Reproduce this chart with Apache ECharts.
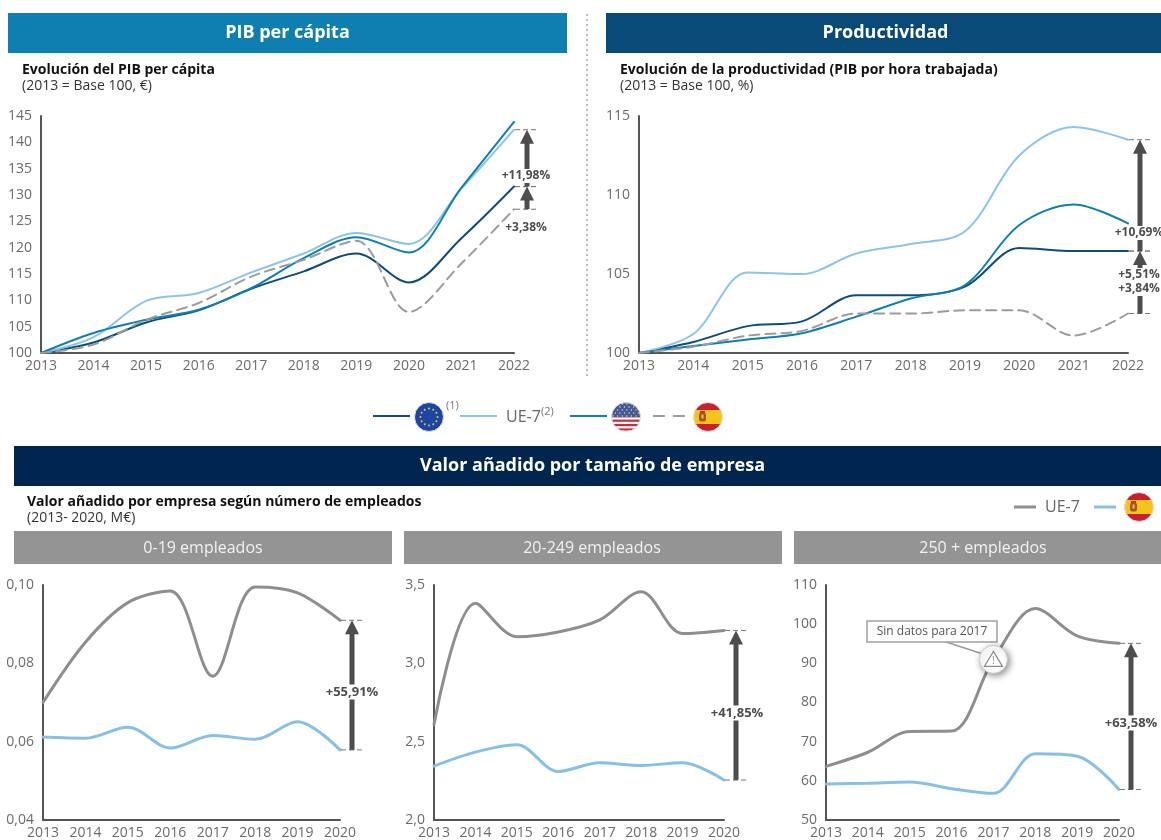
<!DOCTYPE html>
<html>
<head>
<meta charset="utf-8">
<script src="https://cdn.jsdelivr.net/npm/echarts@6/dist/echarts.min.js"></script>
<style>
html, body { margin: 0; padding: 0; background: #fff; overflow: hidden; }
#main { width: 1161px; height: 840px; }
</style>
</head>
<body>
<div id="main"></div>
<script>
const yearsLong = ['2013','2014','2015','2016','2017','2018','2019','2020','2021','2022']
const yearsShort = ['2013','2014','2015','2016','2017','2018','2019','2020']

// PIB per capita
const pibEU = [100, 102, 105.8, 108.1, 112.2, 115.5, 118.9, 113.4, 121.8, 131.6]
const pibUE7 = [100, 103, 109.9, 111.4, 115.3, 118.9, 122.8, 120.7, 131.2, 142.4]
const pibUSA = [100, 103.8, 106.3, 108.2, 112.3, 118, 122, 119.1, 131.4, 143.9]
const pibES = [100, 101.6, 106.3, 109.5, 114.5, 117.7, 121.3, 107.8, 117, 127.3]

// Productividad
const prodEU = [100, 100.7, 101.7, 102, 103.65, 103.65, 104.2, 106.65, 106.45, 106.45]
const prodUE7 = [100, 101.2, 105.1, 105, 106.3, 106.9, 107.7, 112.5, 114.3, 113.5]
const prodUSA = [100, 100.45, 100.85, 101.25, 102.3, 103.45, 104.3, 108.1, 109.4, 108.2]
const prodES = [100, 100.4, 101.1, 101.4, 102.5, 102.5, 102.7, 102.7, 101.1, 102.5]

// Valor anadido por tamano
const smallUE7 = [0.07, 0.0854, 0.0955, 0.0985, 0.0767, 0.0995, 0.098, 0.091]
const smallES = [0.0612, 0.0609, 0.0637, 0.0584, 0.0616, 0.0606, 0.0651, 0.0579]
const midUE7 = [2.61, 3.383, 3.17, 3.2, 3.277, 3.457, 3.19, 3.21]
const midES = [2.344, 2.433, 2.48, 2.31, 2.365, 2.348, 2.365, 2.255]
const bigUE7 = [63.7, 67.3, 72.6, 72.7, 91, 104, 97, 95.1]
const bigES = [59.2, 59.4, 59.7, 58, 56.8, 66.9, 66.3, 57.8]

const FONT = '"Open Sans", sans-serif'
const C_EU = '#0f4c7b'
const C_UE7 = '#8cc4e8'
const C_USA = '#0e80b0'
const C_ES = '#9c9c9c'
const C_GREY = '#8e8e8e'
const C_BLUE = '#86c0e8'
const C_ARROW = '#4d4d4d'

const comma = d => v => v.toFixed(d).replace('.', ',')

const xAxis = (i, data) => ({
  type: 'category',
  gridIndex: i,
  data,
  boundaryGap: false,
  axisLine: { lineStyle: { color: '#555', width: 2 } },
  axisTick: { show: false },
  axisLabel: { color: '#6b6b6b', fontSize: 14, fontFamily: FONT, margin: 6, interval: 0 }
})

const yAxis = (i, min, max, interval, dec) => ({
  type: 'value',
  gridIndex: i,
  min, max, interval,
  axisLine: { show: true, lineStyle: { color: '#555', width: 2 } },
  axisTick: { show: false },
  splitLine: { show: false },
  axisLabel: { color: '#6b6b6b', fontSize: 14, fontFamily: FONT, margin: 9, formatter: comma(dec) }
})

const line = (i, name, data, color, width, dashed) => ({
  type: 'line',
  name,
  xAxisIndex: i,
  yAxisIndex: i,
  data,
  smooth: 0.33,
  showSymbol: false,
  symbol: 'none',
  lineStyle: { color, width, type: dashed ? [10, 6] : 'solid', cap: 'round' }
})

const chart = echarts.init(document.getElementById('main'), null, { renderer: 'canvas' })

chart.setOption({
  animation: false,
  textStyle: { fontFamily: FONT },
  grid: [
    { left: 41, top: 116, width: 473, height: 237 },
    { left: 639, top: 116, width: 489, height: 237 },
    { left: 43, top: 585, width: 297, height: 237 },
    { left: 434, top: 585, width: 290, height: 237 },
    { left: 826, top: 585, width: 293, height: 237 }
  ],
  xAxis: [xAxis(0, yearsLong), xAxis(1, yearsLong), xAxis(2, yearsShort), xAxis(3, yearsShort), xAxis(4, yearsShort)],
  yAxis: [
    yAxis(0, 100, 145, 5, 0),
    yAxis(1, 100, 115, 5, 0),
    yAxis(2, 0.04, 0.1, 0.02, 2),
    yAxis(3, 2, 3.5, 0.5, 1),
    yAxis(4, 50, 110, 10, 0)
  ],
  series: [
    line(0, 'UE', pibEU, C_EU, 2),
    line(0, 'UE-7', pibUE7, C_UE7, 2),
    line(0, 'EEUU', pibUSA, C_USA, 2),
    line(0, 'España', pibES, C_ES, 2, true),
    line(1, 'UE', prodEU, C_EU, 2),
    line(1, 'UE-7', prodUE7, C_UE7, 2),
    line(1, 'EEUU', prodUSA, C_USA, 2),
    line(1, 'España', prodES, C_ES, 2, true),
    line(2, 'UE-7', smallUE7, C_GREY, 3),
    line(2, 'España', smallES, C_BLUE, 3),
    line(3, 'UE-7', midUE7, C_GREY, 3),
    line(3, 'España', midES, C_BLUE, 3),
    line(4, 'UE-7', bigUE7, C_GREY, 3),
    line(4, 'España', bigES, C_BLUE, 3)
  ]
})

// flags as small svg images
const svgUri = body => 'data:image/svg+xml;utf8,' + encodeURIComponent(
  `<svg xmlns="http://www.w3.org/2000/svg" width="30" height="30" viewBox="0 0 30 30"><defs><clipPath id="c"><circle cx="15" cy="15" r="14.5"/></clipPath></defs><g clip-path="url(#c)">${body}</g><circle cx="15" cy="15" r="14.5" fill="none" stroke="#dfe3ea" stroke-width="1"/></svg>`)

const euStars = Array.from({ length: 12 }, (_, k) => {
  const a = k * Math.PI / 6
  return `<circle cx="${15 + 8.5 * Math.cos(a)}" cy="${15 + 8.5 * Math.sin(a)}" r="1" fill="#e8c83a"/>`
}).join('')
const FLAG_EU = svgUri(`<rect width="30" height="30" fill="#1d46a3"/>${euStars}`)

const usStripes = Array.from({ length: 7 }, (_, k) => `<rect y="${k * 4.4}" width="30" height="2.2" fill="#c0313d"/>`).join('')
const usDots = Array.from({ length: 30 }, (_, k) =>
  `<circle cx="${2 + (k % 6) * 4.6 + (Math.floor(k / 6) % 2) * 2.3}" cy="${2 + Math.floor(k / 6) * 3}" r="0.7" fill="#d8dcec"/>`).join('')
const FLAG_US = svgUri(`<rect width="30" height="30" fill="#f6f6f6"/>${usStripes}<rect width="30" height="15" fill="#47588f"/>${usDots}`)

const FLAG_ES = svgUri(`<rect width="30" height="30" fill="#c8202c"/><rect y="8" width="30" height="14" fill="#f6c21c"/><rect x="6" y="10.5" width="7" height="9" rx="2.5" fill="#a8522a"/><rect x="7" y="9" width="5" height="2" fill="#b5402a"/><rect x="8.5" y="12.5" width="2" height="4" fill="#e8c060"/>`)

const flag = (uri, cx, cy) => ({ type: 'image', style: { image: uri, x: cx - 15, y: cy - 15, width: 30, height: 30 }, z: 20 })

const rect = (x, y, w, h, fill) => ({ type: 'rect', shape: { x, y, width: w, height: h }, style: { fill }, z: 1, silent: true })

const text = (x, y, str, opt = {}) => ({
  type: 'text',
  x,
  y: y + 1,
  z: opt.z || 10,
  style: {
    text: str,
    fill: opt.fill || '#333',
    font: `${opt.bold ? 'bold ' : ''}${opt.size || 14}px ${FONT}`,
    align: opt.align || 'left',
    verticalAlign: 'middle',
    backgroundColor: opt.bg,
    padding: opt.bg ? [1, 2] : 0
  }
})

const seg = (x1, y1, x2, y2, color, width, dash) => ({
  type: 'line',
  shape: { x1, y1, x2, y2 },
  style: { stroke: color, lineWidth: width, lineDash: dash },
  z: 10
})

// arrow drawn from the series values, offset to the right of the last category
const arrow = (grid, cat, from, to, dx) => {
  const [x0, yFrom] = chart.convertToPixel({ gridIndex: grid }, [cat, from])
  const [, yTo] = chart.convertToPixel({ gridIndex: grid }, [cat, to])
  const x = x0 + dx
  const dash = [5, 3]
  return [
    seg(x0 + 1, yFrom, x + 10, yFrom, '#777', 1, dash),
    seg(x0 + 1, yTo, x + 10, yTo, '#777', 1, dash),
    { type: 'rect', shape: { x: x - 2.5, y: yTo + 10, width: 5, height: yFrom - yTo - 10 }, style: { fill: C_ARROW }, z: 11 },
    { type: 'polygon', shape: { points: [[x, yTo], [x - 7, yTo + 14], [x + 7, yTo + 14]] }, style: { fill: C_ARROW }, z: 12 }
  ]
}

const pctLabel = (x, y, str, size = 12) => text(x, y, str, { bold: true, size, fill: C_ARROW, align: 'center', bg: '#fff', z: 14 })

// warning callout on 2017
const callout = () => {
  const [cx, cy] = chart.convertToPixel({ gridIndex: 4 }, ['2017', bigUE7[4]])
  return [
    seg(946, 642, cx - 12, cy - 6, '#9a9a9a', 1.5),
    { type: 'rect', shape: { x: 867, y: 621, width: 130, height: 21 }, style: { fill: '#fff', stroke: '#a0a0a0', lineWidth: 1.5 }, z: 12 },
    text(932, 631, 'Sin datos para 2017', { size: 12, fill: '#555', align: 'center', z: 13 }),
    { type: 'circle', shape: { cx, cy, r: 14 }, style: { fill: '#fff', stroke: '#c8c8c8', lineWidth: 1, shadowBlur: 7, shadowColor: 'rgba(0,0,0,0.45)', shadowOffsetX: 2, shadowOffsetY: 2 }, z: 13 },
    { type: 'polygon', shape: { points: [[cx, cy - 8], [cx + 9, cy + 7], [cx - 9, cy + 7]] }, style: { fill: '#fff', stroke: '#8a8a8a', lineWidth: 1.2 }, z: 14 },
    text(cx, cy + 1, '!', { size: 10, fill: '#8a8a8a', align: 'center', z: 15 })
  ]
}

const graphics = [
  // section headers
  rect(8, 13, 559, 40, '#0e7fb0'),
  rect(606, 13, 555, 40, '#0a4a78'),
  rect(14, 446, 1147, 40, '#00264f'),
  text(287.5, 31.5, 'PIB per cápita', { bold: true, size: 18, fill: '#fff', align: 'center' }),
  text(885.5, 31.5, 'Productividad', { bold: true, size: 18, fill: '#fff', align: 'center' }),
  text(592.5, 464.5, 'Valor añadido por tamaño de empresa', { bold: true, size: 18, fill: '#fff', align: 'center' }),
  seg(587, 14, 587, 378, '#bcbcbc', 2, [2, 3]),
  // chart titles
  text(22, 69, 'Evolución del PIB per cápita', { bold: true, fill: '#111' }),
  text(22, 85, '(2013 = Base 100, €)'),
  text(620, 69, 'Evolución de la productividad (PIB por hora trabajada)', { bold: true, fill: '#111' }),
  text(620, 85, '(2013 = Base 100, %)'),
  text(27, 501, 'Valor añadido por empresa según número de empleados', { bold: true, fill: '#111' }),
  text(27, 517, '(2013- 2020, M€)'),
  // legend top
  seg(373, 416, 410, 416, C_EU, 2),
  flag(FLAG_EU, 429, 417),
  text(446, 405, '(1)', { size: 11, fill: '#777' }),
  seg(460, 416, 497, 416, C_UE7, 2),
  text(506, 416, 'UE-7', { size: 16, fill: '#666' }),
  text(541, 411, '(2)', { size: 11, fill: '#777' }),
  seg(570, 416, 607, 416, C_USA, 2),
  flag(FLAG_US, 626, 417),
  seg(653, 416, 689, 416, C_ES, 2, [12, 8]),
  flag(FLAG_ES, 708, 417),
  // legend bottom
  seg(1014, 507, 1036, 507, C_GREY, 3),
  text(1045, 506, 'UE-7', { size: 16, fill: '#666' }),
  seg(1094, 507, 1116, 507, C_BLUE, 3),
  flag(FLAG_ES, 1139, 507),
  // grey sub headers
  rect(14, 531, 378, 33, '#949494'),
  rect(404, 531, 378, 33, '#949494'),
  rect(794, 531, 367, 33, '#949494'),
  text(203, 547, '0-19 empleados', { size: 16, fill: '#f2f2f2', align: 'center' }),
  text(592, 547, '20-249 empleados', { size: 16, fill: '#f2f2f2', align: 'center' }),
  text(983, 547, '250 + empleados', { size: 16, fill: '#f2f2f2', align: 'center' }),
  // arrows
  ...arrow(0, '2022', pibEU[9], pibUE7[9], 13),
  ...arrow(0, '2022', pibES[9], pibEU[9], 13),
  pctLabel(526, 175, '+11,98%'),
  pctLabel(526, 227, '+3,38%'),
  ...arrow(1, '2022', prodEU[9], prodUE7[9], 12),
  ...arrow(1, '2022', prodES[9], prodEU[9], 12),
  pctLabel(1139, 232, '+10,69%'),
  pctLabel(1139, 274, '+5,51%'),
  pctLabel(1139, 288, '+3,84%'),
  ...arrow(2, '2020', smallES[7], smallUE7[7], 12),
  pctLabel(352, 691, '+55,91%', 13),
  ...arrow(3, '2020', midES[7], midUE7[7], 12),
  pctLabel(737, 712, '+41,85%', 13),
  ...arrow(4, '2020', bigES[7], bigUE7[7], 12),
  pctLabel(1131, 722, '+63,58%', 13),
  ...callout()
]

chart.setOption({ graphic: { elements: graphics } })
</script>
</body>
</html>
